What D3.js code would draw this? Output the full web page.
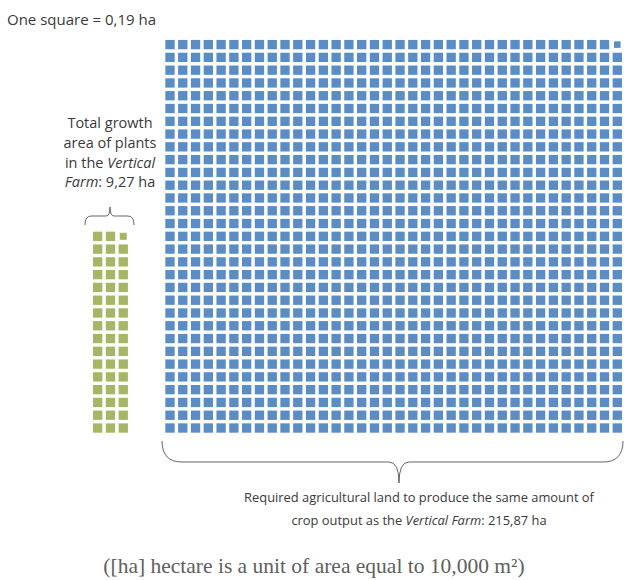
<!DOCTYPE html>
<html>
<head>
<meta charset="utf-8">
<script src="https://cdn.jsdelivr.net/npm/d3@7"></script>
<style>
  html, body { margin: 0; padding: 0; background: #fff; }
  svg { display: block; }
</style>
</head>
<body>
<svg id="chart" width="628" height="580"></svg>
<script>
// ---- data ----
const squareValueHa = 0.19;
const groupNames = ["Vertical Farm", "Agricultural land"];
const groupAreasHa = [9.27, 215.87];
const groupCols = [3, 36];
const groupRows = [16, 31];
const groupLastFraction = [0.75, 0.7];   // last (top-right) square drawn partially
const groupColors = ["#a6b665", "#5a8cc6"];

const legendText = "One square = 0,19 ha";
const farmLabelLines = [
  [{t: "Total growth"}],
  [{t: "area of plants"}],
  [{t: "in the "}, {t: "Vertical", i: true}],
  [{t: "Farm", i: true}, {t: ": 9,27 ha"}]
];
const landLabelLines = [
  [{t: "Required agricultural land to produce the same amount of"}],
  [{t: "crop output as the "}, {t: "Vertical Farm", i: true}, {t: ": 215,87 ha"}]
];
const footnote = "([ha] hectare is a unit of area equal to 10,000 m\u00b2)";

// ---- layout ----
const svg = d3.select("#chart");
const step = 12.78;
const gridBottom = 434.4;
const gridLefts = [91.3, 163.6];
const pad = 0.27;

const textFont = "'Open Sans', 'Noto Sans', sans-serif";
const textColor = "#3a3a3a";

groupNames.forEach((name, g) => {
  const cols = groupCols[g], rows = groupRows[g];
  const x = d3.scaleBand().domain(d3.range(cols))
    .range([gridLefts[g], gridLefts[g] + cols * step]).paddingInner(pad).paddingOuter(pad / 2);
  const y = d3.scaleBand().domain(d3.range(rows))
    .range([gridBottom, gridBottom - rows * step]).paddingInner(pad).paddingOuter(pad / 2);
  const n = cols * rows;
  // fill order: row by row from the bottom, left to right; last cell is top-right
  const cells = d3.range(n).map(i => ({
    c: i % cols, r: Math.floor(i / cols),
    f: i === n - 1 ? groupLastFraction[g] : 1
  }));
  const bw = x.bandwidth(), bh = y.bandwidth();
  svg.append("g").attr("class", "grid-" + g)
    .selectAll("rect").data(cells).join("rect")
    .attr("x", d => x(d.c) + bw * (1 - d.f) / 2)
    .attr("y", d => y(d.r) + bh * (1 - d.f) / 2)
    .attr("width", d => bw * d.f)
    .attr("height", d => bh * d.f)
    .attr("fill", groupColors[g]);
});

// ---- braces ----
function brace(x1, x2, yEnd, yBody, yApex, xApex, r, ra) {
  const p = d3.path();
  p.moveTo(x1, yEnd);
  p.quadraticCurveTo(x1, yBody, x1 + r, yBody);
  p.lineTo(xApex - ra, yBody);
  p.quadraticCurveTo(xApex, yBody, xApex, yApex);
  p.quadraticCurveTo(xApex, yBody, xApex + ra, yBody);
  p.lineTo(x2 - r, yBody);
  p.quadraticCurveTo(x2, yBody, x2, yEnd);
  return p.toString();
}
svg.append("path")
  .attr("d", brace(85, 134, 225, 216, 207, 110, 6, 4))
  .attr("fill", "none").attr("stroke", "#555").attr("stroke-width", 0.9);
svg.append("path")
  .attr("d", brace(162, 623, 441, 462, 483, 399, 20, 10))
  .attr("fill", "none").attr("stroke", "#555").attr("stroke-width", 0.9);

// ---- texts ----
function multiline(lines, cx, y0, lh, size) {
  const t = svg.append("text")
    .attr("text-anchor", "middle")
    .attr("font-family", textFont).attr("font-size", size)
    .attr("fill", textColor);
  lines.forEach((line, li) => {
    line.forEach((seg, si) => {
      const ts = t.append("tspan").text(seg.t)
        .attr("font-style", seg.i ? "italic" : null);
      if (si === 0) ts.attr("x", cx).attr("y", y0 + li * lh);
    });
  });
}

svg.append("text").attr("x", 7).attr("y", 25)
  .attr("font-family", textFont).attr("font-size", 15)
  .attr("fill", textColor).text(legendText);

multiline(farmLabelLines, 110, 128, 19.8, 14.5);
multiline(landLabelLines, 419, 502, 23, 12.9);

svg.append("text").attr("x", 314).attr("y", 573)
  .attr("text-anchor", "middle")
  .attr("font-family", "'Liberation Serif', 'DejaVu Serif', serif")
  .attr("font-size", 21.5).attr("fill", "#606060").text(footnote);
</script>
</body>
</html>
